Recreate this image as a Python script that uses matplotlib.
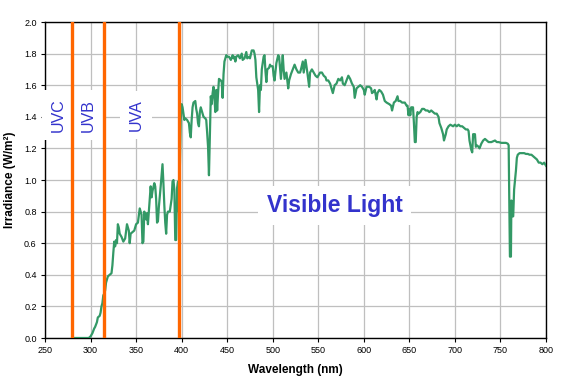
import matplotlib
matplotlib.use("Agg")
import matplotlib.pyplot as plt

plt.rcParams['font.family'] = ['Liberation Sans', 'DejaVu Sans']

# solar spectrum (nm, W/m2 per nm)
wavelength = [280, 290, 298, 300, 302, 304, 305, 307, 308, 310, 311, 312, 313, 314, 315, 316, 317, 318, 319, 321,
              323, 324, 325, 326, 327, 328, 329, 330, 331, 332, 334, 336, 338, 340, 341, 342, 343, 344, 346, 348,
              350, 352, 354, 355, 356, 357, 358, 359, 360, 361, 362, 363, 365, 366, 367, 368, 370, 371, 372, 373,
              374, 375, 377, 379, 380, 381, 382, 383, 384, 385, 387, 389, 390, 391, 392, 393, 394, 395, 396, 397,
              398, 399, 400, 401, 403, 404, 406, 408, 409, 410, 411, 412, 413, 415, 416, 417, 418, 419, 420, 421,
              422, 424, 426, 427, 428, 429, 430, 431, 432, 433, 434, 435, 436, 437, 438, 439, 440, 441, 443, 444,
              445, 446, 447, 449, 450, 452, 453, 454, 456, 457, 458, 459, 460, 462, 463, 464, 466, 467, 469, 470,
              471, 472, 474, 475, 477, 479, 480, 481, 482, 484, 485, 486, 487, 488, 490, 491, 492, 493, 494, 496,
              497, 498, 500, 501, 502, 504, 506, 507, 509, 511, 512, 513, 515, 517, 518, 520, 522, 524, 526, 528,
              530, 531, 533, 534, 535, 536, 538, 540, 541, 543, 547, 549, 552, 554, 556, 558, 559, 561, 563, 565,
              566, 568, 570, 572, 574, 576, 577, 579, 581, 583, 585, 587, 589, 590, 592, 594, 596, 598, 600, 601,
              603, 606, 608, 609, 611, 612, 614, 615, 617, 619, 621, 623, 625, 628, 630, 631, 633, 635, 637, 638,
              640, 642, 645, 647, 648, 649, 650, 651, 652, 654, 655, 656, 657, 658, 659, 660, 662, 664, 666, 668,
              670, 672, 674, 676, 678, 680, 682, 683, 685, 687, 688, 690, 691, 693, 695, 698, 700, 702, 704, 706,
              708, 710, 712, 714, 715, 716, 718, 719, 720, 722, 723, 724, 726, 727, 729, 731, 733, 735, 737, 739,
              740, 742, 744, 746, 748, 751, 753, 756, 758, 759, 759.7, 760.4, 761.5, 762, 763, 764, 765, 767, 768, 769,
              771, 774, 776, 778, 780, 782, 784, 786, 788, 790, 792, 794, 796, 798, 800]
irradiance = [0.0, 0.0, 0.0, 0.01, 0.03, 0.06, 0.07, 0.10, 0.13, 0.14, 0.16, 0.20, 0.22, 0.27, 0.28, 0.30, 0.35, 0.37, 0.39, 0.40,
              0.41, 0.46, 0.54, 0.61, 0.58, 0.62, 0.60, 0.72, 0.70, 0.66, 0.64, 0.61, 0.63, 0.72, 0.70, 0.68, 0.60, 0.66, 0.67, 0.68,
              0.72, 0.73, 0.82, 0.80, 0.78, 0.60, 0.61, 0.80, 0.77, 0.75, 0.79, 0.72, 0.88, 0.96, 0.89, 0.93, 0.98, 0.96, 0.88, 0.73,
              0.74, 0.83, 0.96, 1.10, 0.98, 0.84, 0.73, 0.66, 0.78, 0.80, 0.80, 0.88, 0.99, 1.00, 0.94, 0.62, 0.62, 0.95, 0.99, 0.80,
              1.06, 1.38, 1.48, 1.46, 1.38, 1.39, 1.38, 1.36, 1.30, 1.27, 1.38, 1.46, 1.49, 1.50, 1.45, 1.42, 1.36, 1.34, 1.43, 1.46,
              1.44, 1.40, 1.39, 1.38, 1.30, 1.21, 1.03, 1.27, 1.53, 1.48, 1.55, 1.59, 1.52, 1.43, 1.57, 1.44, 1.55, 1.64, 1.63, 1.62,
              1.52, 1.67, 1.75, 1.79, 1.78, 1.78, 1.77, 1.76, 1.79, 1.77, 1.78, 1.75, 1.78, 1.79, 1.78, 1.77, 1.80, 1.76, 1.77, 1.79,
              1.81, 1.77, 1.78, 1.77, 1.82, 1.82, 1.80, 1.76, 1.65, 1.57, 1.43, 1.60, 1.57, 1.70, 1.78, 1.79, 1.69, 1.62, 1.70, 1.71,
              1.73, 1.72, 1.72, 1.66, 1.63, 1.74, 1.79, 1.78, 1.64, 1.79, 1.70, 1.64, 1.68, 1.58, 1.63, 1.67, 1.70, 1.73, 1.70, 1.68,
              1.68, 1.70, 1.75, 1.68, 1.72, 1.76, 1.68, 1.59, 1.68, 1.70, 1.66, 1.65, 1.68, 1.68, 1.66, 1.65, 1.63, 1.63, 1.61, 1.57,
              1.55, 1.60, 1.61, 1.64, 1.63, 1.65, 1.61, 1.60, 1.63, 1.66, 1.64, 1.61, 1.59, 1.52, 1.58, 1.59, 1.60, 1.59, 1.57, 1.54,
              1.59, 1.59, 1.58, 1.55, 1.56, 1.57, 1.51, 1.55, 1.57, 1.56, 1.54, 1.50, 1.49, 1.48, 1.47, 1.44, 1.49, 1.50, 1.53, 1.50,
              1.50, 1.49, 1.49, 1.47, 1.47, 1.41, 1.45, 1.41, 1.46, 1.46, 1.36, 1.24, 1.24, 1.40, 1.43, 1.42, 1.43, 1.45, 1.45, 1.44,
              1.44, 1.43, 1.44, 1.43, 1.42, 1.42, 1.40, 1.36, 1.33, 1.29, 1.25, 1.29, 1.32, 1.34, 1.35, 1.34, 1.35, 1.34, 1.35, 1.34,
              1.34, 1.33, 1.32, 1.32, 1.31, 1.25, 1.19, 1.175, 1.29, 1.29, 1.21, 1.22, 1.21, 1.20, 1.23, 1.25, 1.26, 1.25, 1.24, 1.24,
              1.24, 1.245, 1.25, 1.24, 1.24, 1.235, 1.235, 1.235, 1.23, 1.22, 0.87, 0.515, 0.515, 0.87, 0.77, 0.77, 0.94, 1.06, 1.14, 1.16,
              1.17, 1.17, 1.17, 1.165, 1.165, 1.16, 1.16, 1.15, 1.14, 1.13, 1.11, 1.11, 1.10, 1.11, 1.09]

band_edges = [280, 315, 397.5]
band_names = ['UVC', 'UVB', 'UVA']
band_label_x = [264.5, 297, 350]
x_ticks = list(range(250, 801, 50))
y_ticks = [0.0, 0.2, 0.4, 0.6, 0.8, 1.0, 1.2, 1.4, 1.6, 1.8, 2.0]

fig = plt.figure(figsize=(5.77, 3.78), dpi=100)
ax = fig.add_axes([45/577, 1 - 338/378, 501/577, 316/378])

ax.plot(wavelength, irradiance, color='#339966', lw=1.6, zorder=4)
for x in band_edges:
    ax.axvline(x, color='#FF6600', lw=2.4, zorder=5)

box = dict(facecolor='white', edgecolor='none', pad=6)
for name, x in zip(band_names, band_label_x):
    ax.text(x, 1.41, name, rotation=90, ha='center', va='center', fontsize=11.5,
            color='#3333CC', bbox=box, zorder=3)
ax.text(568, 0.84, 'Visible Light', ha='center', va='center', fontsize=16.5,
        fontweight='bold', color='#3333CC', bbox=box, zorder=3)

ax.set_xlim(250, 800)
ax.set_ylim(0, 2.0)
ax.set_xticks(x_ticks)
ax.set_yticks(y_ticks)
ax.set_yticklabels([f'{v:.1f}' for v in y_ticks])
ax.tick_params(labelsize=6.5, length=3, width=0.8, direction='out', pad=3)
ax.grid(True, color='#BFBFBF', lw=0.9, zorder=1)
ax.set_axisbelow(True)
for s in ax.spines.values():
    s.set_color('black')
    s.set_linewidth(1.0)

ax.set_xlabel('Wavelength (nm)', fontsize=8.5, fontweight='bold', labelpad=6)
ax.set_ylabel('Irradiance (W/m²)', fontsize=8.5, fontweight='bold')
ax.yaxis.set_label_coords(-0.058, 0.5)

fig.savefig('out.png', dpi=100)
